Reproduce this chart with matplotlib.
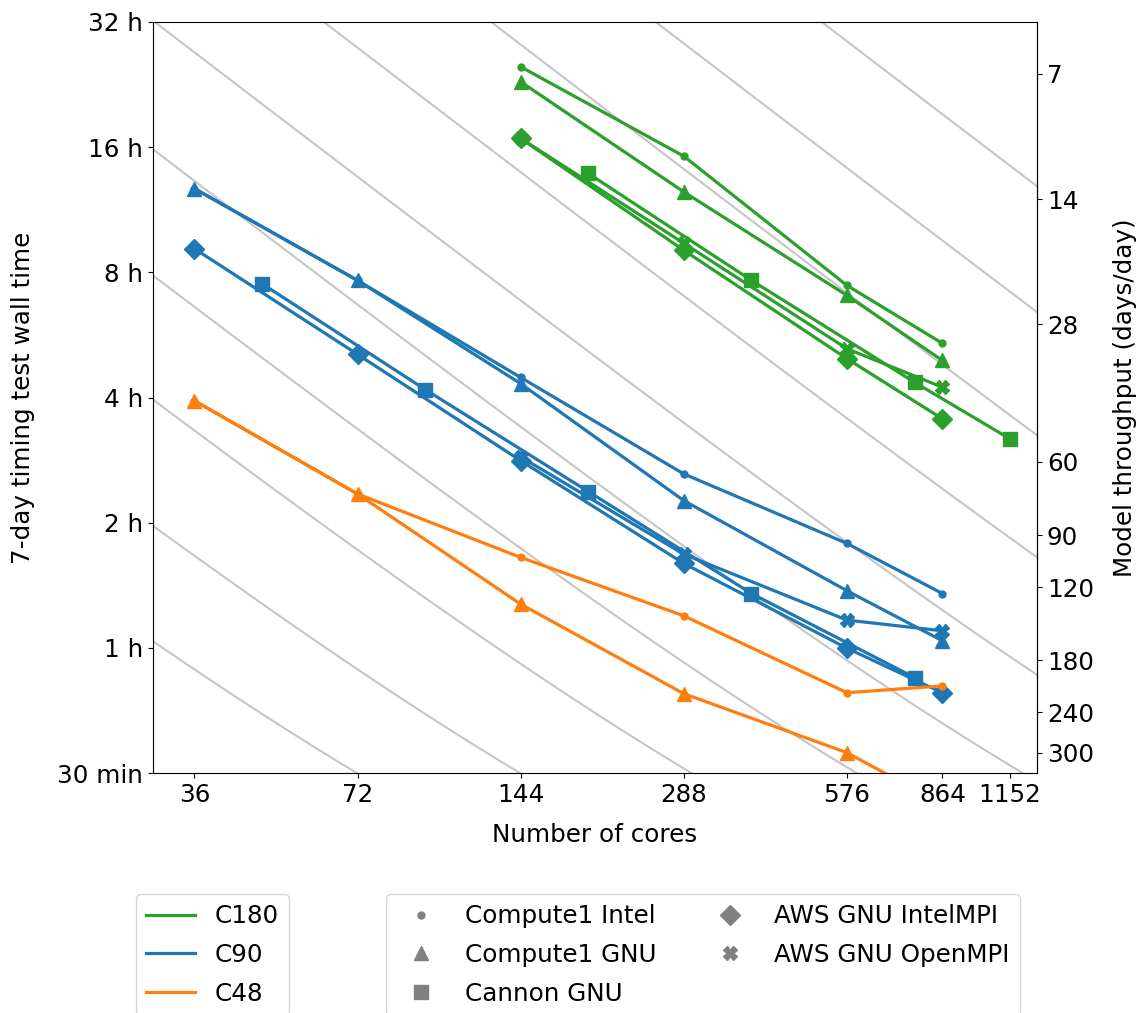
import numpy as np
import matplotlib
matplotlib.use("Agg")
import matplotlib.pyplot as plt
from matplotlib.lines import Line2D
from matplotlib.ticker import NullLocator, FixedLocator, FixedFormatter

plt.rcParams['font.family'] = ['DejaVu Sans']
plt.rcParams['font.size'] = 17.7

# ---------------- data (wall time in hours) ----------------
x_ticks = [36, 72, 144, 288, 576, 864, 1152]
x_ticklabels = ['36', '72', '144', '288', '576', '864', '1152']
y_ticks = [0.5, 1, 2, 4, 8, 16, 32]
y_ticklabels = ['30 min', '1 h', '2 h', '4 h', '8 h', '16 h', '32 h']
tp_ticks = [7, 14, 28, 60, 90, 120, 180, 240, 300]

# C180
c180_c1intel_cores = [144, 288, 576, 864]
c180_c1intel_hours = [24.97, 15.22, 7.44, 5.40]
c180_c1gnu_cores = [144, 288, 576, 864]
c180_c1gnu_hours = [22.98, 12.49, 7.04, 4.91]
c180_cannon_cores = [192, 384, 768, 1152]
c180_cannon_hours = [13.83, 7.65, 4.35, 3.18]
c180_awsintel_cores = [144, 288, 576, 864]
c180_awsintel_hours = [16.79, 9.04, 4.96, 3.555]
c180_awsopen_cores = [144, 288, 576, 864]
c180_awsopen_hours = [16.8, 9.40, 5.24, 4.235]

# C90
c90_c1intel_cores = [36, 72, 144, 288, 576, 864]
c90_c1intel_hours = [12.72, 7.65, 4.47, 2.62, 1.783, 1.351]
c90_c1gnu_cores = [36, 72, 144, 288, 576, 864]
c90_c1gnu_hours = [12.72, 7.65, 4.32, 2.26, 1.372, 1.040]
c90_cannon_cores = [48, 96, 192, 384, 768]
c90_cannon_hours = [7.51, 4.18, 2.375, 1.351, 0.848]
c90_awsintel_cores = [36, 72, 144, 288, 576, 864]
c90_awsintel_hours = [9.12, 5.08, 2.82, 1.596, 0.998, 0.780]
c90_awsopen_cores = [144, 288, 576, 864]
c90_awsopen_hours = [2.88, 1.68, 1.166, 1.099]

# C48
c48_c1intel_cores = [36, 72, 144, 288, 576, 864]
c48_c1intel_hours = [3.93, 2.345, 1.650, 1.194, 0.780, 0.810]
c48_c1gnu_cores = [36, 72, 144, 288, 576, 864]
c48_c1gnu_hours = [3.93, 2.345, 1.274, 0.776, 0.5596, 0.421]

# background guide curves: wall time = core_hours / cores + overhead
guide_core_hours = [28, 56, 116, 234, 474, 970, 1990, 4050, 8150, 16500]
guide_overhead_hours = 0.11

colors = {'C180': '#2ca02c', 'C90': '#1f77b4', 'C48': '#ff7f0e'}
markers = {'Compute1 Intel': '.', 'Compute1 GNU': '^', 'Cannon GNU': 's',
           'AWS GNU IntelMPI': 'D', 'AWS GNU OpenMPI': 'X'}
msizes = {'.': 10, '^': 10.5, 's': 10, 'D': 10.5, 'X': 10}

series = [
    ('C180', 'Compute1 Intel', c180_c1intel_cores, c180_c1intel_hours),
    ('C180', 'Compute1 GNU', c180_c1gnu_cores, c180_c1gnu_hours),
    ('C180', 'Cannon GNU', c180_cannon_cores, c180_cannon_hours),
    ('C180', 'AWS GNU IntelMPI', c180_awsintel_cores, c180_awsintel_hours),
    ('C180', 'AWS GNU OpenMPI', c180_awsopen_cores, c180_awsopen_hours),
    ('C90', 'Compute1 Intel', c90_c1intel_cores, c90_c1intel_hours),
    ('C90', 'Compute1 GNU', c90_c1gnu_cores, c90_c1gnu_hours),
    ('C90', 'Cannon GNU', c90_cannon_cores, c90_cannon_hours),
    ('C90', 'AWS GNU IntelMPI', c90_awsintel_cores, c90_awsintel_hours),
    ('C90', 'AWS GNU OpenMPI', c90_awsopen_cores, c90_awsopen_hours),
    ('C48', 'Compute1 Intel', c48_c1intel_cores, c48_c1intel_hours),
    ('C48', 'Compute1 GNU', c48_c1gnu_cores, c48_c1gnu_hours),
]

fig = plt.figure(figsize=(11.36, 10.13), dpi=100)
ax = fig.add_axes([0.1347, 0.2369, 0.7782, 0.7414])
ax.set_xscale('log')
ax.set_yscale('log')

xg = np.geomspace(20, 2000, 400)
for ch in guide_core_hours:
    ax.plot(xg, ch / xg + guide_overhead_hours, color='0.5', alpha=0.45, lw=1.5, zorder=0)

for res, sysname, cores, hours in series:
    m = markers[sysname]
    ax.plot(cores, hours, color=colors[res], marker=m, ms=msizes[m], lw=2.3, zorder=2)

ax.set_xlim(30.2, 1292)
ax.set_ylim(0.5, 32)
ax.xaxis.set_major_locator(FixedLocator(x_ticks))
ax.xaxis.set_major_formatter(FixedFormatter(x_ticklabels))
ax.xaxis.set_minor_locator(NullLocator())
ax.yaxis.set_major_locator(FixedLocator(y_ticks))
ax.yaxis.set_major_formatter(FixedFormatter(y_ticklabels))
ax.yaxis.set_minor_locator(NullLocator())
ax.set_xlabel('Number of cores', labelpad=12)
ax.set_ylabel('7-day timing test wall time', labelpad=16)

sec = ax.secondary_yaxis('right', functions=(lambda h: 168.0 / h, lambda t: 168.0 / t))
sec.yaxis.set_major_locator(FixedLocator(tp_ticks))
sec.yaxis.set_major_formatter(FixedFormatter([str(t) for t in tp_ticks]))
sec.yaxis.set_minor_locator(NullLocator())
sec.set_ylabel('Model throughput (days/day)', labelpad=14)

res_handles = [Line2D([], [], color=colors[r], lw=2.3, label=r) for r in ['C180', 'C90', 'C48']]
leg1 = fig.legend(handles=res_handles, loc='upper left', labelspacing=0.6,
                  bbox_to_anchor=(124 / 1136, 1 - 882 / 1013))
sys_handles = [Line2D([], [], color='gray', marker=markers[s], ls='none', ms=msizes[markers[s]], label=s)
               for s in ['Compute1 Intel', 'Compute1 GNU', 'Cannon GNU', 'AWS GNU IntelMPI', 'AWS GNU OpenMPI']]
leg2 = fig.legend(handles=sys_handles, loc='upper left', ncol=2, labelspacing=0.6,
                  bbox_to_anchor=(374 / 1136, 1 - 882 / 1013))

fig.savefig('out.png', dpi=100)
